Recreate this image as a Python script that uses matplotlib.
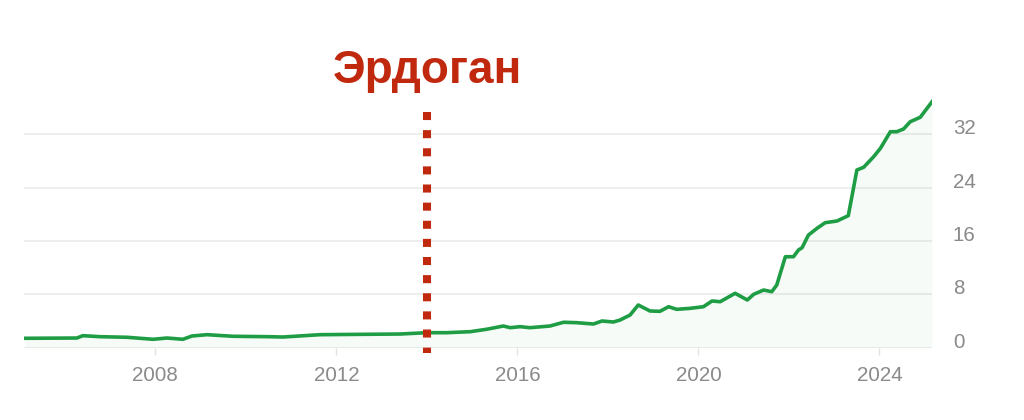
import matplotlib
matplotlib.use('Agg')
import matplotlib.pyplot as plt

plt.rcParams['font.family'] = ['Liberation Sans', 'DejaVu Sans']

# USD/TRY
years = [2005.12, 2006.27, 2006.40, 2006.78, 2007.38, 2007.95, 2008.26, 2008.61, 2008.81,
         2009.14, 2009.72, 2010.50, 2010.82, 2011.64, 2012.50, 2013.41, 2014.00, 2014.44,
         2014.96, 2015.32, 2015.69, 2015.84, 2016.06, 2016.28, 2016.72, 2017.02, 2017.31,
         2017.68, 2017.87, 2018.12, 2018.27, 2018.49, 2018.67, 2018.93, 2019.15, 2019.34,
         2019.52, 2019.82, 2020.11, 2020.30, 2020.48, 2020.81, 2021.08, 2021.22, 2021.44,
         2021.62, 2021.73, 2021.92, 2022.10, 2022.21, 2022.29, 2022.43, 2022.62, 2022.80,
         2023.06, 2023.31, 2023.39, 2023.50, 2023.65, 2023.87, 2024.02, 2024.24, 2024.38,
         2024.53, 2024.68, 2024.90, 2025.16]
rate = [1.41, 1.45, 1.80, 1.65, 1.56, 1.26, 1.45, 1.26, 1.75,
        1.95, 1.71, 1.65, 1.60, 1.95, 2.00, 2.05, 2.25, 2.25,
        2.40, 2.76, 3.25, 3.00, 3.15, 3.00, 3.25, 3.81, 3.75,
        3.55, 4.00, 3.85, 4.15, 4.90, 6.40, 5.50, 5.45, 6.14,
        5.75, 5.90, 6.14, 7.00, 6.89, 8.15, 7.15, 8.00, 8.64,
        8.39, 9.39, 13.63, 13.63, 14.64, 14.98, 16.88, 17.89, 18.73,
        18.98, 19.78, 22.62, 26.62, 27.03, 28.61, 29.87, 32.36, 32.36,
        32.76, 33.86, 34.52, 36.85]

yticks = [0, 8, 16, 24, 32]
xticks = [2008, 2012, 2016, 2020, 2024]
event_year = 2014.0
event_label = 'Эрдоган'

green = '#1f9d45'
red = '#c1290f'
grey = '#8a8a8a'

fig = plt.figure(figsize=(10.24, 4.2), dpi=100)
ax = fig.add_axes([0.02344, 0.17214, 0.88672, 0.60167])

ax.fill_between(years, rate, 0, color=green, alpha=0.04, lw=0)
ax.plot(years, rate, color=green, lw=2.6, solid_joinstyle='round', zorder=3)

# dotted marker line
ax.plot([event_year, event_year], [35.3, -0.8], color=red, lw=5.8,
        linestyle=(0, (1, 1.25)), dash_capstyle='butt', clip_on=False, zorder=4)
fig.text(427 / 1024, 0.802, event_label, color=red, fontsize=33, fontweight='bold',
         ha='center', va='baseline')

ax.set_xlim(2005.10, 2025.16)
ax.set_ylim(0, 37.86)
ax.set_xticks(xticks)
ax.set_xticklabels([str(x) for x in xticks])
ax.set_yticks(yticks)
ax.set_yticklabels([str(y) for y in yticks])

ax.yaxis.tick_right()
ax.yaxis.grid(True, color='#ebebeb', lw=1.2)
ax.set_axisbelow(True)
for s in ax.spines.values():
    s.set_visible(False)

ax.tick_params(axis='x', direction='out', length=5, width=1, color='#e2e2e2',
               labelcolor=grey, labelsize=14.8, pad=8.5)
ax.tick_params(axis='y', length=0, labelcolor=grey, labelsize=14.8, pad=15)
for t in ax.get_yticklabels():
    t.set_verticalalignment('baseline')

fig.savefig('out.png', dpi=100, facecolor='white')
